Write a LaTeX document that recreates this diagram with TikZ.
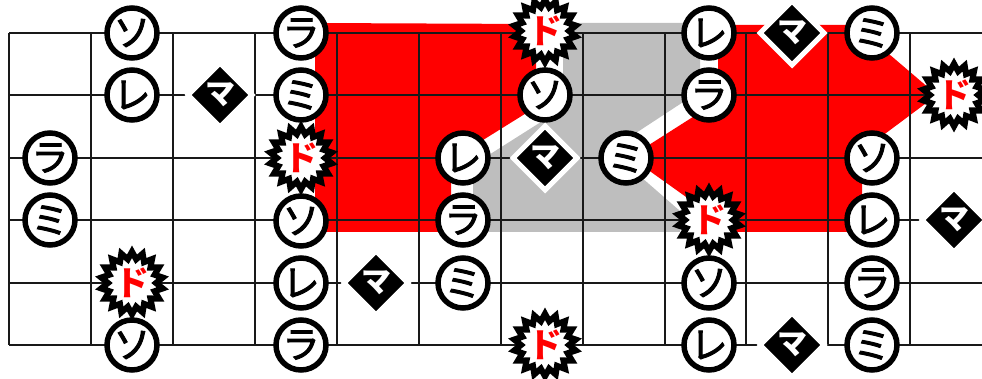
\documentclass[tikz,border=0pt]{standalone}
\usepackage{fontspec}
\setmainfont{Noto Sans CJK JP}
\newfontfamily\notefont[FakeBold=2.5]{Noto Sans CJK JP}
\usetikzlibrary{shapes.geometric}
\definecolor{grayzone}{RGB}{190,190,190}
\definecolor{wire}{RGB}{25,25,25}
\tikzset{
  wirestyle/.style={draw=wire,line width=2.2pt},
  note/.style={circle,draw=black,fill=white,line width=5.5pt,minimum size=50pt,inner sep=0pt,font=\notefont\fontsize{37}{37}\selectfont},
  root/.style={star,star points=18,star point ratio=1.3,minimum size=59pt,inner sep=0pt,draw=black,fill=white,line width=6pt,miter limit=10,text=red,font=\fontsize{34}{34}\selectfont\bfseries},
  dia/.style={diamond,minimum width=66pt,minimum height=66pt,inner sep=0pt,draw=white,fill=black,line width=5pt,text=white,font=\fontsize{30}{30}\selectfont\bfseries},
}
\begin{document}
\begin{tikzpicture}[x=1pt,y=-1pt]
\useasboundingbox (0,0) rectangle (982,379);
\fill[grayzone] (473,232) -- (473,165) -- (563,108) -- (563,23) -- (700,23) -- (700,91) -- (610,150) -- (680,211) -- (680,232) -- cycle;
\fill[red] (315,23) -- (536,24) -- (536,107) -- (451,160) -- (451,232) -- (315,232) -- cycle;
\fill[red] (718,25) -- (855,25) -- (937,95) -- (862,151) -- (862,232) -- (710,232) -- (710,214) -- (630,157) -- (718,101) -- cycle;
\foreach \x in {9,91,173,255,337,419,501,583,665,746,828,910}
  \draw[wirestyle] (\x,33) -- (\x,345);
\foreach \y in {33,95,158,220,283,345}
  \draw[wirestyle] (9,\y) -- (982,\y);
\node[note] (a1) at (132,33) {ソ};
\node[note] (a2) at (132,95) {レ};
\node[dia] (a3) at (220,95) {マ};
\node[note] (a4) at (50,158) {ラ};
\node[note] (a5) at (50,220) {ミ};
\node[root] (a6) at (132,283) {ド};
\node[note] (a7) at (132,345) {ソ};
\node[note] (b1) at (301,33) {ラ};
\node[note] (b2) at (301,95) {ミ};
\node[root] (b3) at (301,158) {ド};
\node[note] (b4) at (301,221) {ソ};
\node[note] (b5) at (301,283) {レ};
\node[note] (b6) at (301,345) {ラ};
\node[root] (c1) at (545,31) {ド};
\node[note] (c2) at (545,95) {ソ};
\node[note] (c3) at (463,158) {レ};
\node[dia] (c4) at (545,158) {マ};
\node[note] (c5) at (463,220) {ラ};
\node[note] (c6) at (463,283) {ミ};
\node[dia] (c7) at (376,283) {マ};
\node[root] (c8) at (545,345) {ド};
\node[note] (d1) at (626,158) {ミ};
\node[note] (d2) at (709,33) {レ};
\node[note] (d3) at (709,95) {ラ};
\node[root] (d4) at (709,220) {ド};
\node[note] (d5) at (709,283) {ソ};
\node[note] (d6) at (709,345) {レ};
\node[dia] (e1) at (792,33) {マ};
\node[dia] (e2) at (792,345) {マ};
\node[note] (f1) at (872,33) {ミ};
\node[note] (f2) at (872,158) {ソ};
\node[note] (f3) at (872,220) {レ};
\node[note] (f4) at (872,283) {ラ};
\node[note] (f5) at (872,345) {ミ};
\node[root] (g1) at (954,95) {ド};
\node[dia] (g2) at (954,220) {マ};
\end{tikzpicture}
\end{document}
